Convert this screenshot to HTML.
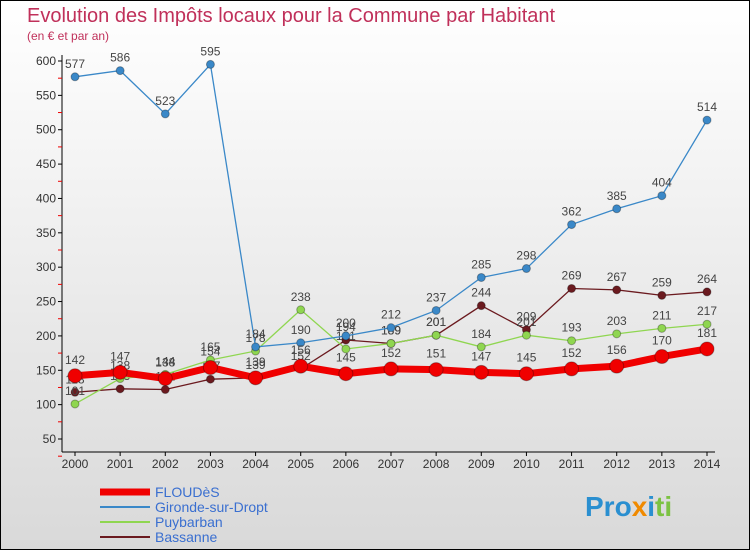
<!DOCTYPE html>
<html><head><meta charset="utf-8"><style>
body{margin:0;width:750px;height:550px;overflow:hidden;font-family:"Liberation Sans",sans-serif}
svg text{font-family:"Liberation Sans",sans-serif}
</style></head><body>
<svg id="c" width="750" height="550" xmlns="http://www.w3.org/2000/svg">
<defs><linearGradient id="bg" x1="0" y1="0" x2="0" y2="1"><stop offset="0" stop-color="#ffffff"/><stop offset="1" stop-color="#d9d9d9"/></linearGradient></defs>
<rect x="0.5" y="0.5" width="749" height="549" fill="url(#bg)" stroke="#000"/>
<text x="27" y="22" font-size="20" fill="#c0305a">Evolution des Impôts locaux pour la Commune par Habitant</text>
<text x="27" y="40" font-size="12" fill="#c0305a">(en € et par an)</text>
<g id="axes"></g><g id="series"></g>
<g id="legend"></g>
<text x="585" y="516" font-size="28" font-weight="bold"><tspan fill="#2a8fd0">Pro</tspan><tspan fill="#f08a00">x</tspan><tspan fill="#2a8fd0">i</tspan><tspan fill="#7cc242">ti</tspan></text>
</svg>
<script>
const years=[2000,2001,2002,2003,2004,2005,2006,2007,2008,2009,2010,2011,2012,2013,2014];
const yTicks=[50,100,150,200,250,300,350,400,450,500,550,600];
const floudes=[142,147,138,154,139,156,145,152,151,147,145,152,156,170,181];
const gironde=[577,586,523,595,184,190,200,212,237,285,298,362,385,404,514];
const puybarban=[101,138,144,165,178,238,181,189,201,184,201,193,203,211,217];
const bassanne=[118,123,122,137,139,152,194,189,201,244,209,269,267,259,264];
const NS="http://www.w3.org/2000/svg";
const X=i=>75+i*(707-75)/(years.length-1);
const Y=v=>61+(600-v)*(439-61)/550;
function mk(t,a,p){const e=document.createElementNS(NS,t);for(const k in a)e.setAttribute(k,a[k]);p.appendChild(e);return e;}
const ax=document.getElementById('axes');
const yl=mk('line',{x1:62,y1:55,x2:62,y2:452,stroke:'#000'},ax);


const xl=mk('line',{x1:62,y1:452,x2:715,y2:452,stroke:'#000'},ax);


yTicks.forEach(v=>{
 mk('line',{x1:58,y1:Y(v),x2:62,y2:Y(v),stroke:'#000'},ax);
 mk('line',{x1:58,y1:Y(v-25),x2:62,y2:Y(v-25),stroke:'#e00'},ax);
 const t=mk('text',{x:56,y:Y(v)+4,'font-size':12,'text-anchor':'end',fill:'#333'},ax);t.textContent=v;
 
 
});
years.forEach((y,i)=>{
 mk('line',{x1:X(i),y1:452,x2:X(i),y2:456,stroke:'#000'},ax);
 const t=mk('text',{x:X(i),y:468,'font-size':12,'text-anchor':'middle',fill:'#333'},ax);t.textContent=y;
 
 
});
const sg=document.getElementById('series');
function series(d,color,w,r,name){
 const g=mk('g',{},sg);
 
 
 mk('polyline',{points:d.map((v,i)=>X(i)+','+Y(v)).join(' '),fill:'none',stroke:color,'stroke-width':w},g);
 d.forEach((v,i)=>{
  const c=mk('circle',{cx:X(i),cy:Y(v),r:r,fill:color,stroke:'rgba(0,0,0,0.3)'},g);
  
  
  const t=mk('text',{x:X(i),y:Y(v)-9-(r>4?3:0),'font-size':12,'text-anchor':'middle',fill:'#444'},g);t.textContent=v;
  
  
 });
}
series(bassanne,'#6b1a1f',1.3,4,'bassanne-series');
series(puybarban,'#8fd650',1.3,4,'puybarban-series');
series(gironde,'#3a88c8',1.3,4,'gironde-series');
series(floudes,'#f00000',7,7,'floudes-series');
const lg=document.getElementById('legend');
[['FLOUDèS','#f00000',7],['Gironde-sur-Dropt','#3a88c8',2],['Puybarban','#8fd650',2],['Bassanne','#6b1a1f',2]].forEach((e,i)=>{
 const y=492+i*15;
 const g=mk('g',{},lg);
 
 
 mk('line',{x1:100,y1:y,x2:150,y2:y,stroke:e[1],'stroke-width':e[2]},g);
 const t=mk('text',{x:155,y:y+5,'font-size':14,fill:'#3a6fd0'},g);t.textContent=e[0];
});
</script>
</body></html>
